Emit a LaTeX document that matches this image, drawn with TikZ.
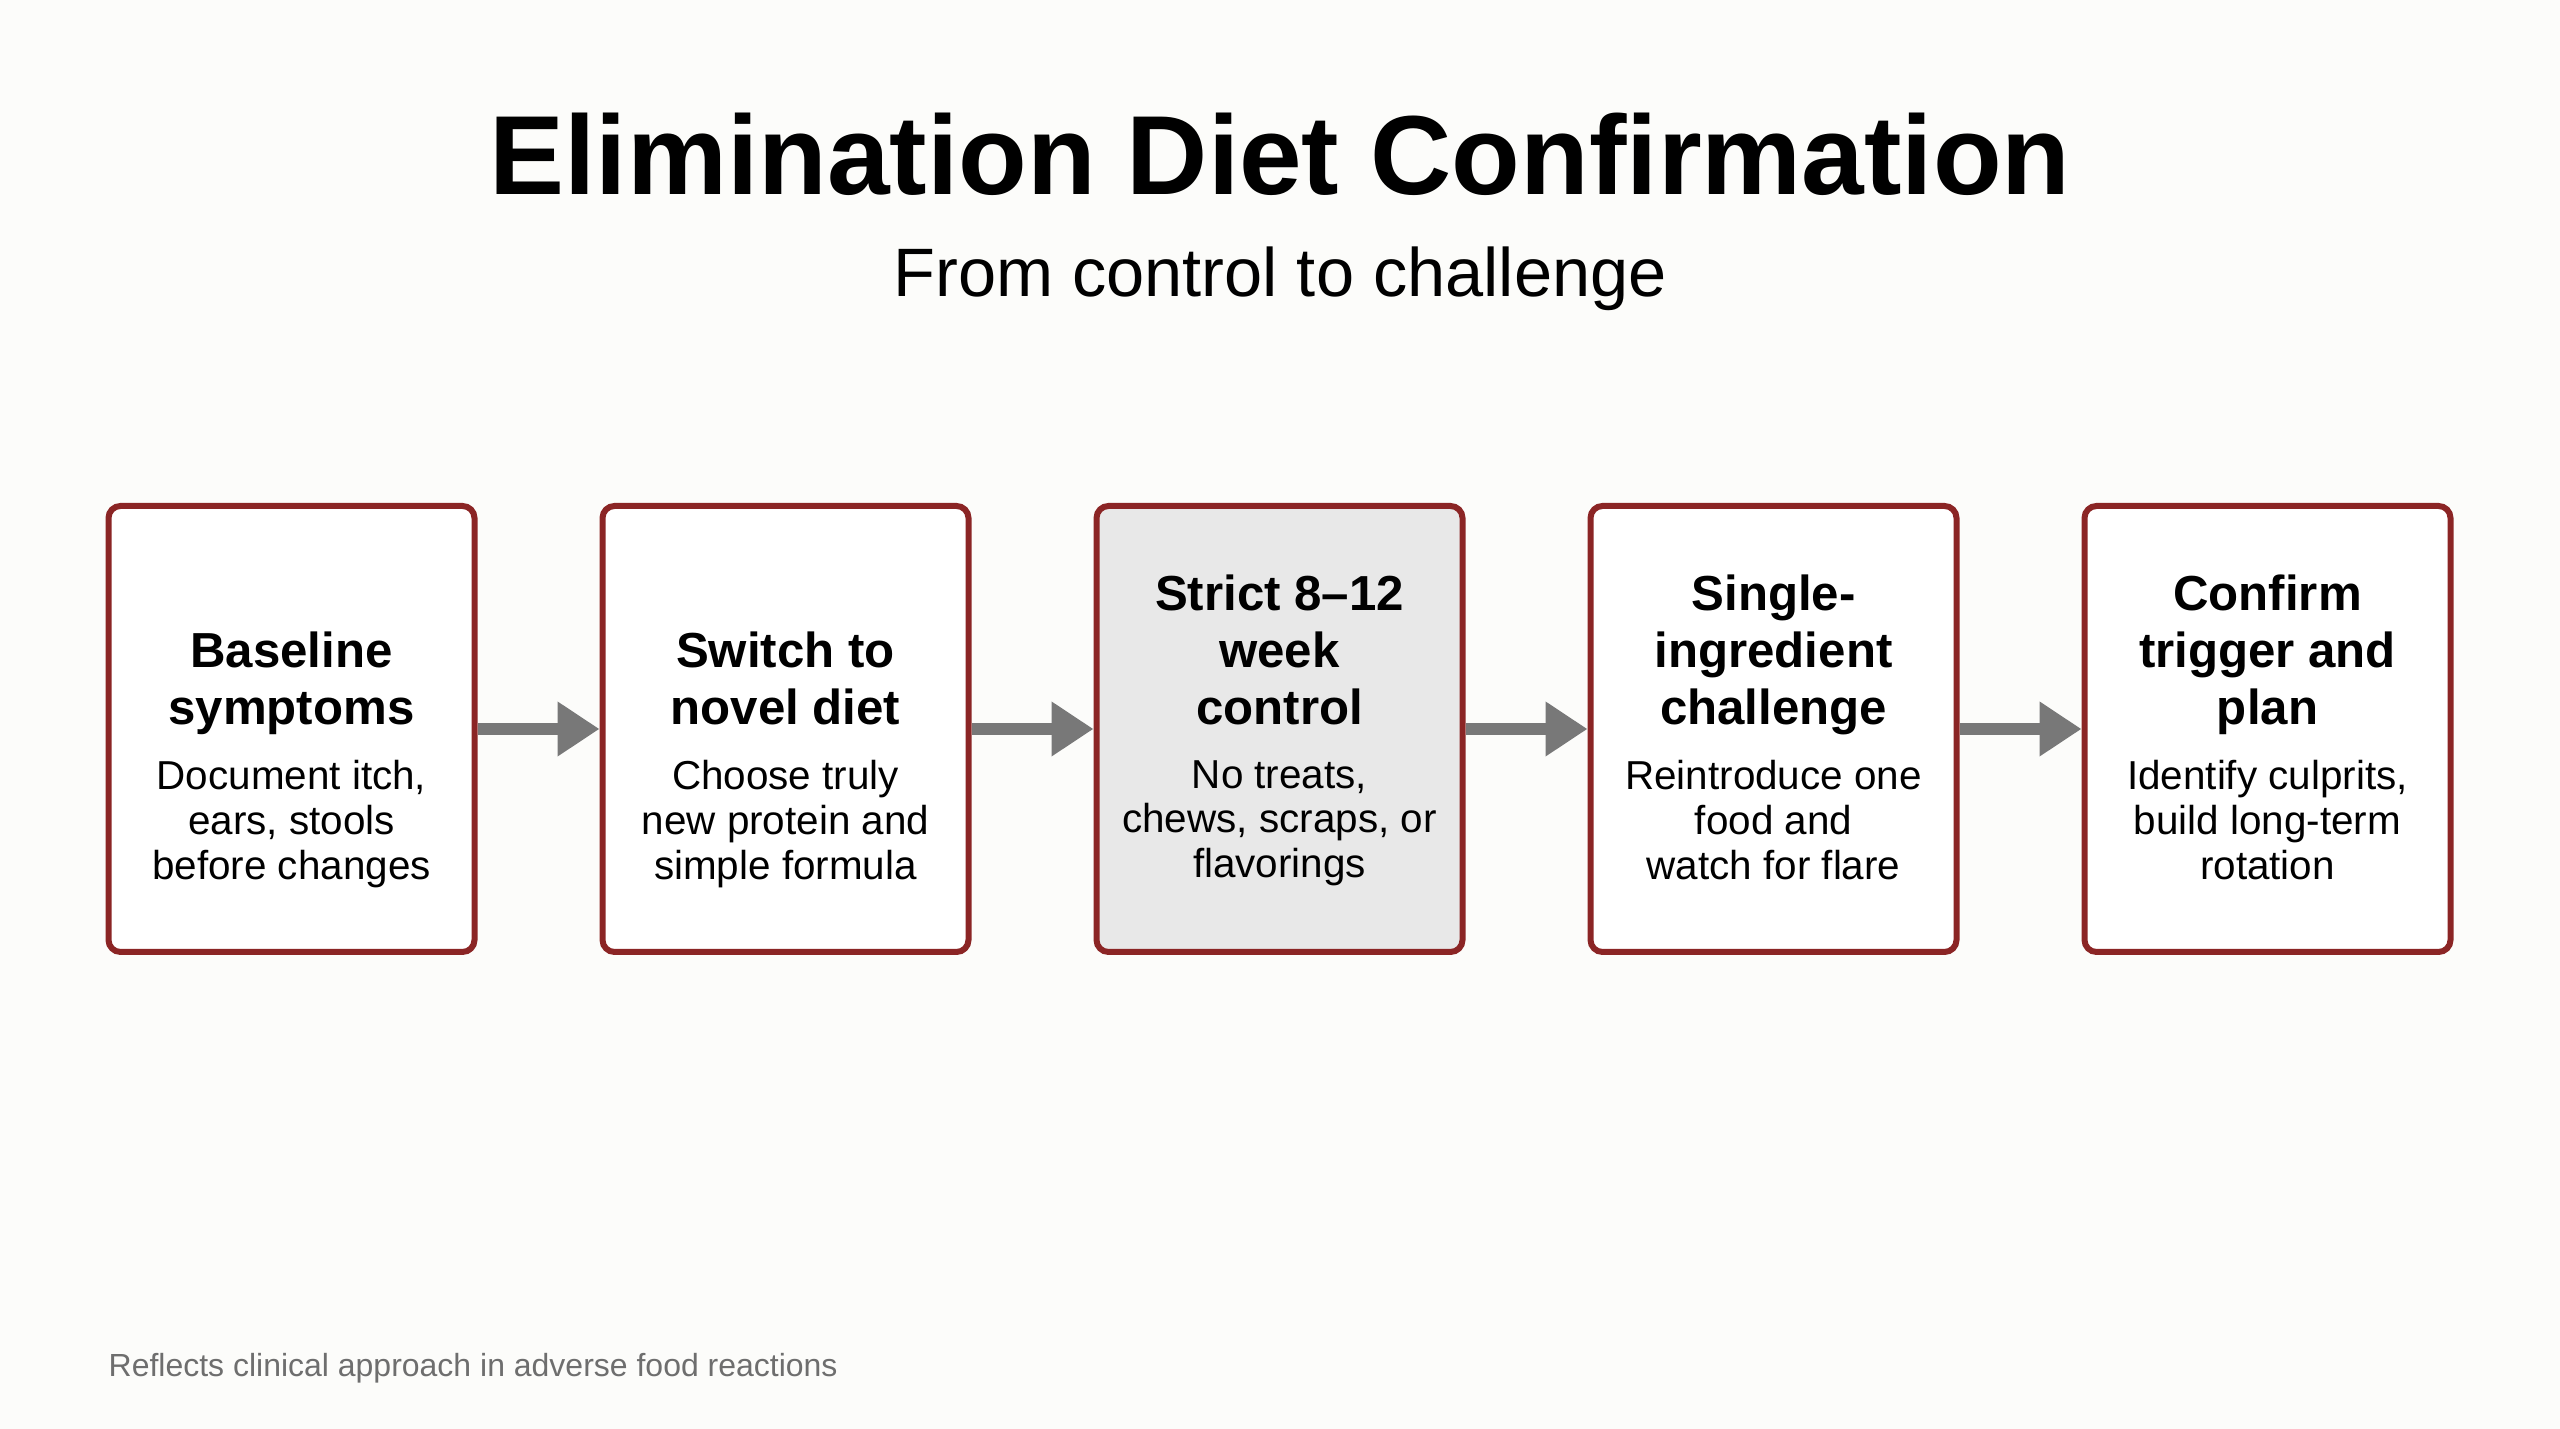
\documentclass[tikz,border=0pt]{standalone}
\usepackage{fontspec}
\setmainfont{Liberation Sans}
\usetikzlibrary{positioning,arrows.meta}
\definecolor{StepRed}{RGB}{139,37,37}
\definecolor{ArrowGray}{RGB}{120,120,120}
\definecolor{ControlFill}{RGB}{232,232,232}
\definecolor{PageBg}{RGB}{252,252,250}
\definecolor{NoteGray}{RGB}{110,110,110}

\begin{document}
\begin{tikzpicture}[
  stepbox/.style={draw=StepRed, line width=0.06cm, rounded corners=0.12cm, fill=white, minimum width=3.66cm, minimum height=4.46cm},
  stephead/.style={anchor=south, align=center, inner sep=0pt, font=\fontsize{14}{16.2}\selectfont\bfseries, execute at end node=\strut},
  stepbody/.style={align=center, inner sep=0pt, font=\fontsize{11.5}{12.8}\selectfont, execute at begin node=\strut},
  flow/.style={-{Triangle[length=0.42cm, width=0.52cm]}, line width=0.12cm, ArrowGray},
  node distance=1.22cm
]
  \useasboundingbox (0,0) rectangle (25.6,14.29);
  \fill[PageBg] (0,0) rectangle (25.6,14.29);

  \node[anchor=base, font=\fontsize{32}{38}\selectfont\bfseries] (title) at (12.8,12.34) {Elimination Diet Confirmation};
  \node[anchor=base, font=\fontsize{19.5}{23}\selectfont] (subtitle) at (12.8,11.32) {From control to challenge};

  % the five steps
  \node[stepbox] (b1) at (2.915,7.0) {};
  \node[stepbox, right=of b1] (b2) {};
  \node[stepbox, fill=ControlFill, right=of b2] (b3) {};
  \node[stepbox, right=of b3] (b4) {};
  \node[stepbox, right=of b4] (b5) {};

  \node[stephead] (b1h) at ([yshift=-0.128cm]b1.center) {Baseline\\symptoms};
  \node[stepbody, below=0.177cm of b1h] (b1d) {Document itch,\\ears, stools\\before changes};
  \node[stephead] (b2h) at ([yshift=-0.128cm]b2.center) {Switch to\\novel diet};
  \node[stepbody, below=0.177cm of b2h] (b2d) {Choose truly\\new protein and\\simple formula};
  \node[stephead] (b3h) at ([yshift=-0.128cm]b3.center) {Strict 8--12\\week\\control};
  \node[stepbody, below=0.177cm of b3h] (b3d) {No treats,\\chews, scraps, or\\flavorings};
  \node[stephead] (b4h) at ([yshift=-0.128cm]b4.center) {Single-\\ingredient\\challenge};
  \node[stepbody, below=0.177cm of b4h] (b4d) {Reintroduce one\\food and\\watch for flare};
  \node[stephead] (b5h) at ([yshift=-0.128cm]b5.center) {Confirm\\trigger and\\plan};
  \node[stepbody, below=0.177cm of b5h] (b5d) {Identify culprits,\\build long-term\\rotation};

  \draw[flow] (b1) -- (b2);
  \draw[flow] (b2) -- (b3);
  \draw[flow] (b3) -- (b4);
  \draw[flow] (b4) -- (b5);

  \node[anchor=base west, inner sep=0pt, font=\fontsize{9.1}{11}\selectfont, text=NoteGray] (note) at (1.08,0.52) {Reflects clinical approach in adverse food reactions};
\end{tikzpicture}
\end{document}
